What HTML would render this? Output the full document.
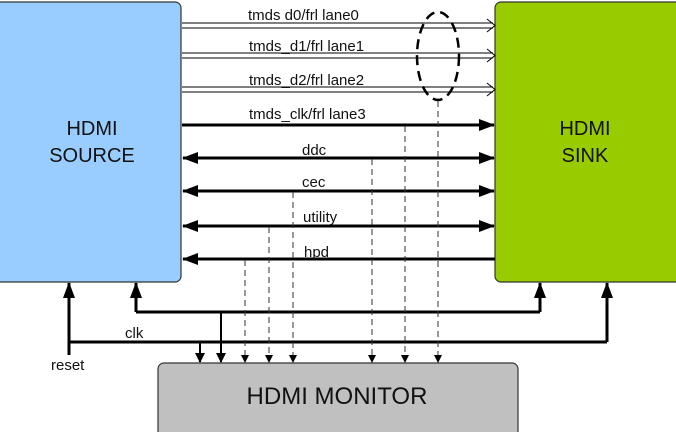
<!DOCTYPE html>
<html><head><style>
html,body{margin:0;padding:0;background:#fff;}
svg{display:block;font-family:"Liberation Sans",Arial,sans-serif;}
</style></head><body>
<svg width="676" height="432" viewBox="0 0 676 432" xmlns="http://www.w3.org/2000/svg">
<defs>
<marker id="a" markerWidth="10" markerHeight="12" refX="9" refY="5" orient="auto" markerUnits="userSpaceOnUse"><path d="M0,0 L10,5 L0,10 Z" fill="#000"/></marker>
<marker id="b" markerWidth="16" markerHeight="12" refX="15" refY="6" orient="auto-start-reverse" markerUnits="userSpaceOnUse"><path d="M0,0 L16,6 L0,12 Z" fill="#000"/></marker>
<marker id="s" markerWidth="8" markerHeight="8" refX="7" refY="4" orient="auto" markerUnits="userSpaceOnUse"><path d="M0,0 L8,4 L0,8 Z" fill="#000"/></marker>
</defs>
<rect x="-6" y="2" width="187" height="280" rx="6" fill="#99ccff" stroke="#333" stroke-width="1.2"/>
<rect x="495" y="2" width="190" height="280" rx="6" fill="#99cc00" stroke="#333" stroke-width="1.2"/>
<rect x="158" y="363" width="360" height="75" rx="6" fill="#c0c0c0" stroke="#333" stroke-width="1.2"/>
<g font-size="20" fill="#111" text-anchor="middle">
<text x="92" y="135">HDMI</text><text x="92" y="162">SOURCE</text>
<text x="585" y="135">HDMI</text><text x="585" y="162">SINK</text>
<text x="337" y="404" font-size="24">HDMI MONITOR</text>
</g>
<g stroke="#000" stroke-width="1" fill="none">
<path d="M182,23 H493 M182,28 H493 M487,19 L495,25.5 L487,32"/>
<path d="M182,53 H493 M182,58 H493 M487,49 L495,55.5 L487,62"/>
<path d="M182,87 H493 M182,92 H493 M487,83 L495,89.5 L487,96"/>
</g>
<g stroke="#000" stroke-width="3" fill="none">
<line x1="182" y1="125" x2="494" y2="125" marker-end="url(#b)"/>
<line x1="183" y1="158" x2="494" y2="158" marker-start="url(#b)" marker-end="url(#b)"/>
<line x1="183" y1="191" x2="494" y2="191" marker-start="url(#b)" marker-end="url(#b)"/>
<line x1="183" y1="226" x2="494" y2="226" marker-start="url(#b)" marker-end="url(#b)"/>
<line x1="495" y1="259" x2="183" y2="259" marker-end="url(#b)"/>
<line x1="69" y1="355" x2="69" y2="283" marker-end="url(#b)"/>
<path d="M69,342 H607"/>
<line x1="607" y1="342" x2="607" y2="283" marker-end="url(#b)"/>
<line x1="136" y1="312" x2="136" y2="283" marker-end="url(#b)"/>
<path d="M136,312 H540"/>
<line x1="540" y1="312" x2="540" y2="283" marker-end="url(#b)"/>
</g>
<g stroke="#000" stroke-width="2" fill="none">
<line x1="200" y1="342" x2="200" y2="362" marker-end="url(#a)"/>
<line x1="221" y1="312" x2="221" y2="362" marker-end="url(#a)"/>
</g>
<g stroke="#333" stroke-width="1" stroke-dasharray="6,4" fill="none">
<line x1="245" y1="260" x2="245" y2="362" marker-end="url(#s)"/>
<line x1="269" y1="227" x2="269" y2="362" marker-end="url(#s)"/>
<line x1="293" y1="192" x2="293" y2="362" marker-end="url(#s)"/>
<line x1="372" y1="159" x2="372" y2="362" marker-end="url(#s)"/>
<line x1="405" y1="126" x2="405" y2="362" marker-end="url(#s)"/>
<line x1="438" y1="101" x2="438" y2="362" marker-end="url(#s)"/>
</g>
<ellipse cx="438" cy="56" rx="21" ry="44" fill="none" stroke="#000" stroke-width="2.5" stroke-dasharray="10,6"/>
<g font-size="15" fill="#111">
<text x="248" y="20">tmds  d0/frl lane0</text>
<text x="249" y="51">tmds_d1/frl lane1</text>
<text x="249" y="85">tmds_d2/frl lane2</text>
<text x="249" y="119">tmds_clk/frl lane3</text>
<text x="302" y="155">ddc</text>
<text x="302" y="187">cec</text>
<text x="303" y="222">utility</text>
<text x="304" y="257">hpd</text>
<text x="125" y="338">clk</text>
<text x="51" y="370">reset</text>
</g>
</svg>
</body></html>
